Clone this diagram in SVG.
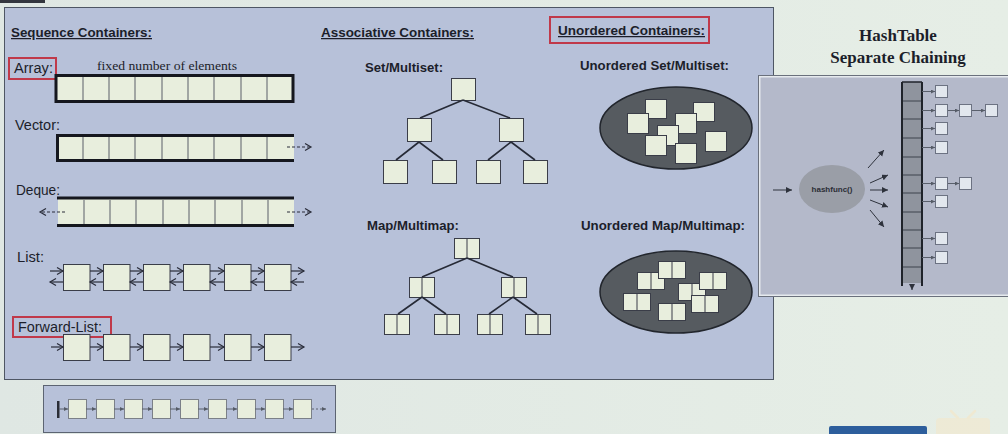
<svg xmlns="http://www.w3.org/2000/svg" width="1008" height="434" viewBox="0 0 1008 434">
<defs>
<linearGradient id="bg" x1="0" y1="0" x2="1" y2="0">
<stop offset="0" stop-color="#dfe7e3"/><stop offset="1" stop-color="#e6eee6"/>
</linearGradient>
<marker id="open" markerUnits="userSpaceOnUse" markerWidth="10" markerHeight="10" refX="7" refY="4" orient="auto">
<path d="M1,0.5 L7,4 L1,7.5" fill="none" stroke="#2a2d3a" stroke-width="1.2"/>
</marker>
<marker id="tri" markerUnits="userSpaceOnUse" markerWidth="8" markerHeight="8" refX="6" refY="3" orient="auto">
<path d="M0,0 L6,3 L0,6 Z" fill="#2e323c"/>
</marker>
<marker id="tiny" markerUnits="userSpaceOnUse" markerWidth="6" markerHeight="6" refX="4" refY="2" orient="auto">
<path d="M0,0 L4,2 L0,4 Z" fill="#555b66"/>
</marker>
</defs>
<style>
.lbl{font-family:"Liberation Sans",Arial,sans-serif;fill:#1c1e2a}
.hdr{font-family:"Liberation Sans",Arial,sans-serif;fill:#1c1e2a;font-weight:bold;font-size:12.5px;text-decoration:underline}
.b{font-weight:bold;font-size:12.5px}
.n{font-size:14px}
.cell{fill:#e8eedd;stroke:#3a3d48;stroke-width:1}
.cellg{fill:#e8eedd;stroke:#7b8088;stroke-width:1}
.edge{stroke:#262a36;stroke-width:1.6;fill:none}
.arr{stroke:#2a2d3a;stroke-width:1.2;fill:none;marker-end:url(#open)}
.dash{stroke:#2a2d3a;stroke-width:1.2;fill:none;stroke-dasharray:3 2;marker-end:url(#open)}
.redbox{fill:none;stroke:#c0394a;stroke-width:2}
.chain{fill:#e2e7ee;stroke:#6c7282;stroke-width:1}
.harr{stroke:#2e323c;stroke-width:1;fill:none;marker-end:url(#tri)}
.carr{stroke:#5a606c;stroke-width:1;fill:none;marker-end:url(#tiny)}
</style>
<rect x="0" y="0" width="1008" height="434" fill="url(#bg)"/>
<rect x="0" y="0" width="45" height="3" fill="#33363e"/>

<!-- main panel -->
<rect id="main-panel" x="4.5" y="7.5" width="769" height="372" fill="#b7c1d9" stroke="#4e5664" stroke-width="1"/>

<!-- Sequence -->
<g id="seq-header"><text class="hdr" x="11" y="37" textLength="141" lengthAdjust="spacingAndGlyphs">Sequence Containers:</text></g>

<g id="array">
<rect class="redbox" x="9" y="58" width="47" height="21"/>
<text class="lbl n" x="14" y="73" textLength="39" lengthAdjust="spacingAndGlyphs">Array:</text>
<text x="97" y="70" font-family="'Liberation Serif','Times New Roman',serif" font-size="13.5" fill="#1c1e2a" textLength="140" lengthAdjust="spacingAndGlyphs">fixed number of elements</text>
<rect x="56" y="75.5" width="237" height="26" fill="#e8eedd" stroke="#15171e" stroke-width="3"/>
<path d="M83,77 V100 M109,77 V100 M135,77 V100 M162,77 V100 M188,77 V100 M214,77 V100 M241,77 V100 M267,77 V100" stroke="#5a5e68" stroke-width="1"/>
</g>

<g id="vector">
<text class="lbl n" x="15" y="130" textLength="45" lengthAdjust="spacingAndGlyphs">Vector:</text>
<rect x="57" y="136" width="237" height="25" fill="#e8eedd"/>
<path d="M294,135.5 H57.5 V160.5 H294" fill="none" stroke="#15171e" stroke-width="3"/>
<path d="M83,137 V159 M109,137 V159 M135,137 V159 M162,137 V159 M188,137 V159 M214,137 V159 M241,137 V159 M267,137 V159" stroke="#5a5e68" stroke-width="1"/>
<path class="dash" d="M287,147 H311"/>
</g>

<g id="deque">
<text class="lbl n" x="16" y="195" textLength="44" lengthAdjust="spacingAndGlyphs">Deque:</text>
<rect x="58" y="199" width="236" height="26" fill="#e8eedd"/>
<path d="M57,198 H294 M57,225.5 H294" stroke="#15171e" stroke-width="3"/>
<path d="M84,200 V224 M110,200 V224 M136,200 V224 M163,200 V224 M189,200 V224 M215,200 V224 M242,200 V224 M268,200 V224" stroke="#5a5e68" stroke-width="1"/>
<path class="dash" d="M65,212 H40"/>
<path class="dash" d="M287,212 H311"/>
</g>

<g id="list">
<text class="lbl n" x="17" y="262" textLength="27" lengthAdjust="spacingAndGlyphs">List:</text>
<rect class="cell" x="63.5" y="264.5" width="26.5" height="26"/>
<rect class="cell" x="103.5" y="264.5" width="26.5" height="26"/>
<rect class="cell" x="143.5" y="264.5" width="26.5" height="26"/>
<rect class="cell" x="183.5" y="264.5" width="26.5" height="26"/>
<rect class="cell" x="224.5" y="264.5" width="26.5" height="26"/>
<rect class="cell" x="264.5" y="264.5" width="26.5" height="26"/>
</g>

<g id="forward-list">
<rect class="redbox" x="13" y="317" width="98" height="20"/>
<text class="lbl n" x="18" y="332" textLength="84" lengthAdjust="spacingAndGlyphs">Forward-List:</text>
<rect class="cell" x="63.5" y="334.5" width="26.5" height="26"/>
<rect class="cell" x="103.5" y="334.5" width="26.5" height="26"/>
<rect class="cell" x="143.5" y="334.5" width="26.5" height="26"/>
<rect class="cell" x="183.5" y="334.5" width="26.5" height="26"/>
<rect class="cell" x="224.5" y="334.5" width="26.5" height="26"/>
<rect class="cell" x="264.5" y="334.5" width="26.5" height="26"/>
</g>

<!-- Associative -->
<g id="assoc-header"><text class="hdr" x="321" y="37" textLength="153" lengthAdjust="spacingAndGlyphs">Associative Containers:</text></g>

<g id="set-tree">
<text class="lbl b" x="365" y="72" textLength="78" lengthAdjust="spacingAndGlyphs">Set/Multiset:</text>
<rect class="cell" x="451.5" y="78.5" width="24" height="22"/>
<rect class="cell" x="407.5" y="118.5" width="24" height="23"/>
<rect class="cell" x="499.5" y="118.5" width="24" height="23"/>
<rect class="cell" x="383.5" y="160.5" width="24" height="23"/>
<rect class="cell" x="432.5" y="160.5" width="24" height="23"/>
<rect class="cell" x="476.5" y="160.5" width="24" height="23"/>
<rect class="cell" x="523.5" y="160.5" width="24" height="23"/>
</g>

<g id="map-tree">
<text class="lbl b" x="367" y="230" textLength="92" lengthAdjust="spacingAndGlyphs">Map/Multimap:</text>
<g>
<rect class="cell" x="454.5" y="238.5" width="25" height="20"/><path d="M467,238.5 V258.5" stroke="#3a3d48"/>
<rect class="cell" x="409.5" y="277.5" width="25" height="20"/><path d="M422,277.5 V297.5" stroke="#3a3d48"/>
<rect class="cell" x="501.5" y="277.5" width="25" height="20"/><path d="M514,277.5 V297.5" stroke="#3a3d48"/>
<rect class="cell" x="384.5" y="314.5" width="25" height="20"/><path d="M397,314.5 V334.5" stroke="#3a3d48"/>
<rect class="cell" x="434.5" y="314.5" width="25" height="20"/><path d="M447,314.5 V334.5" stroke="#3a3d48"/>
<rect class="cell" x="477.5" y="314.5" width="25" height="20"/><path d="M490,314.5 V334.5" stroke="#3a3d48"/>
<rect class="cell" x="525.5" y="314.5" width="25" height="20"/><path d="M538,314.5 V334.5" stroke="#3a3d48"/>
</g>
</g>

<!-- Unordered -->
<g id="unordered-header">
<rect class="redbox" x="550" y="17" width="159" height="26"/>
<text class="hdr" x="558" y="35" textLength="147" lengthAdjust="spacingAndGlyphs">Unordered Containers:</text>
</g>

<g id="unordered-set">
<text class="lbl b" x="580" y="70" textLength="149" lengthAdjust="spacingAndGlyphs">Unordered Set/Multiset:</text>
<ellipse cx="676" cy="128" rx="76" ry="41" fill="#565b60" stroke="#22262d" stroke-width="1.5"/>
<rect class="cell" x="645.5" y="99.5" width="21" height="19"/>
<rect class="cell" x="627.5" y="113.5" width="21" height="20"/>
<rect class="cell" x="693.5" y="102.5" width="21" height="19"/>
<rect class="cell" x="675.5" y="113.5" width="21" height="20"/>
<rect class="cell" x="657.5" y="125.5" width="21" height="20"/>
<rect class="cell" x="645.5" y="135.5" width="21" height="20"/>
<rect class="cell" x="675.5" y="143.5" width="21" height="20"/>
<rect class="cell" x="705.5" y="131.5" width="21" height="20"/>
</g>

<g id="unordered-map">
<text class="lbl b" x="581" y="230" textLength="164" lengthAdjust="spacingAndGlyphs">Unordered Map/Multimap:</text>
<ellipse cx="676" cy="292" rx="76" ry="41" fill="#565b60" stroke="#22262d" stroke-width="1.5"/>
<g>
<rect class="cell" x="637.5" y="272.5" width="27" height="17"/><path d="M651,272.5 V289.5" stroke="#3a3d48"/>
<rect class="cell" x="658.5" y="261.5" width="27" height="17"/><path d="M672,261.5 V278.5" stroke="#3a3d48"/>
<rect class="cell" x="678.5" y="283.5" width="27" height="17"/><path d="M692,283.5 V300.5" stroke="#3a3d48"/>
<rect class="cell" x="699.5" y="272.5" width="27" height="17"/><path d="M713,272.5 V289.5" stroke="#3a3d48"/>
<rect class="cell" x="691.5" y="295.5" width="27" height="17"/><path d="M705,295.5 V312.5" stroke="#3a3d48"/>
<rect class="cell" x="623.5" y="293.5" width="27" height="17"/><path d="M637,293.5 V310.5" stroke="#3a3d48"/>
<rect class="cell" x="658.5" y="303.5" width="27" height="17"/><path d="M672,303.5 V320.5" stroke="#3a3d48"/>
</g>
</g>

<!-- HashTable -->
<g id="hash-title" font-family="'Liberation Serif','Times New Roman',serif" font-weight="bold" font-size="17" fill="#1c1e2a" text-anchor="middle">
<text x="898" y="41">HashTable</text>
<text x="898" y="63">Separate Chaining</text>
</g>

<g id="hashtable-panel">
<rect x="759.5" y="76.5" width="252" height="219" fill="#b4b9ca" stroke="#e6eaee" stroke-width="2"/>
<rect x="758.5" y="75.5" width="254" height="221" fill="none" stroke="#6a707c" stroke-width="1"/>
</g>

<g id="hashfunc">
<ellipse cx="832" cy="189" rx="33" ry="24" fill="#9a9ea7"/>
<text x="832" y="192" text-anchor="middle" font-family="'Liberation Sans',Arial,sans-serif" font-weight="bold" font-size="8" fill="#2a2d36">hashfunc()</text>
</g>

<g id="buckets">
<rect x="902" y="82" width="20" height="201" fill="#8f949e"/>
<path d="M902,101 H922 M902,119 H922 M902,138 H922 M902,157 H922 M902,175 H922 M902,193 H922 M902,212 H922 M902,230 H922 M902,248 H922 M902,267 H922" stroke="#3d424c" stroke-width="1"/>
<path d="M902,82 H922" stroke="#1f232a" stroke-width="1.5"/>
<path d="M902,82 V286 M922,82 V286" stroke="#1f232a" stroke-width="2"/>
</g>

<g id="chains">
<rect class="chain" x="935.5" y="85.5" width="12" height="12"/>
<rect class="chain" x="935.5" y="104.5" width="12" height="12"/>
<rect class="chain" x="959.5" y="104.5" width="12" height="12"/>
<rect class="chain" x="985.5" y="104.5" width="12" height="12"/>
<rect class="chain" x="935.5" y="122.5" width="12" height="12"/>
<rect class="chain" x="935.5" y="141.5" width="12" height="12"/>
<rect class="chain" x="935.5" y="177.5" width="12" height="12"/>
<rect class="chain" x="959.5" y="177.5" width="12" height="12"/>
<rect class="chain" x="935.5" y="195.5" width="12" height="12"/>
<rect class="chain" x="935.5" y="232.5" width="12" height="12"/>
<rect class="chain" x="935.5" y="251.5" width="12" height="12"/>
</g>

<!-- connectors -->
<g id="connectors">
<!-- set tree -->
<path class="edge" d="M463,100 L420,118 M463,100 L510,118 M419,142 L396,160 M419,142 L443,160 M511,142 L488,160 M511,142 L535,160"/>
<!-- map tree -->
<path class="edge" d="M467,258 L422,277 M467,258 L513,277 M422,297 L398,314 M422,297 L446,314 M513,297 L489,314 M513,297 L537,314"/>
<!-- list -->
<path class="arr" d="M50,271 H63"/><path class="arr" d="M63,282 H50"/>
<path class="arr" d="M90,271 H103"/><path class="arr" d="M103,282 H90"/>
<path class="arr" d="M130,271 H143"/><path class="arr" d="M143,282 H130"/>
<path class="arr" d="M170,271 H183"/><path class="arr" d="M183,282 H170"/>
<path class="arr" d="M210,271 H224"/><path class="arr" d="M224,282 H210"/>
<path class="arr" d="M251,271 H264"/><path class="arr" d="M264,282 H251"/>
<path class="arr" d="M291,271 H304"/><path class="arr" d="M304,282 H291"/>
<!-- forward list -->
<path class="arr" d="M51,347 H63"/>
<path class="arr" d="M90,347 H103"/>
<path class="arr" d="M130,347 H143"/>
<path class="arr" d="M170,347 H183"/>
<path class="arr" d="M210,347 H224"/>
<path class="arr" d="M251,347 H264"/>
<path class="arr" d="M291,347 H304"/>
<!-- hash -->
<path class="harr" d="M773,190 H792"/>
<path class="harr" d="M868,168 L884,150"/>
<path class="harr" d="M870,183 L888,175"/>
<path class="harr" d="M870,190 H888"/>
<path class="harr" d="M870,200 L888,207"/>
<path class="harr" d="M870,210 L884,227"/>
<path class="harr" d="M912,285 V290"/>
<path class="carr" d="M922,91.5 H935"/>
<path class="carr" d="M922,110.5 H935"/><path class="carr" d="M948,110.5 H959"/><path class="carr" d="M972,110.5 H985"/>
<path class="carr" d="M922,128.5 H935"/>
<path class="carr" d="M922,147.5 H935"/>
<path class="carr" d="M922,183.5 H935"/><path class="carr" d="M948,183.5 H959"/>
<path class="carr" d="M922,201.5 H935"/>
<path class="carr" d="M922,238.5 H935"/>
<path class="carr" d="M922,257.5 H935"/>
</g>

<!-- bottom strip -->
<g id="bottom-strip">
<rect x="43.5" y="385.5" width="292" height="47" fill="#b7c1d9" stroke="#5c6472" stroke-width="1"/>
<rect x="57" y="401" width="2.5" height="17" fill="#2a2d36"/>
<rect class="cellg" x="68.5" y="399.5" width="18" height="19"/>
<rect class="cellg" x="96.5" y="399.5" width="18" height="19"/>
<rect class="cellg" x="124.5" y="399.5" width="18" height="19"/>
<rect class="cellg" x="152.5" y="399.5" width="18" height="19"/>
<rect class="cellg" x="180.5" y="399.5" width="18" height="19"/>
<rect class="cellg" x="208.5" y="399.5" width="18" height="19"/>
<rect class="cellg" x="237.5" y="399.5" width="18" height="19"/>
<rect class="cellg" x="265.5" y="399.5" width="18" height="19"/>
<rect class="cellg" x="293.5" y="399.5" width="18" height="19"/>
<g>
<path class="carr" d="M59,409 H68"/>
<path class="carr" d="M86,409 H96"/>
<path class="carr" d="M114,409 H124"/>
<path class="carr" d="M142,409 H152"/>
<path class="carr" d="M170,409 H180"/>
<path class="carr" d="M198,409 H208"/>
<path class="carr" d="M226,409 H237"/>
<path class="carr" d="M255,409 H265"/>
<path class="carr" d="M283,409 H293"/>
<path class="carr" d="M312,409 H326" stroke-dasharray="2 2"/>
</g>
</g>

<!-- bottom right decorations -->
<rect x="829" y="426" width="98" height="12" rx="2" fill="#2d5e9c"/>
<rect x="936" y="418" width="54" height="20" rx="4" fill="#efe9d2" opacity="0.85"/>
<path d="M951,411 L958,418 M975,411 L968,418" stroke="#efe9d2" stroke-width="2.5" stroke-linecap="round"/>
</svg>
